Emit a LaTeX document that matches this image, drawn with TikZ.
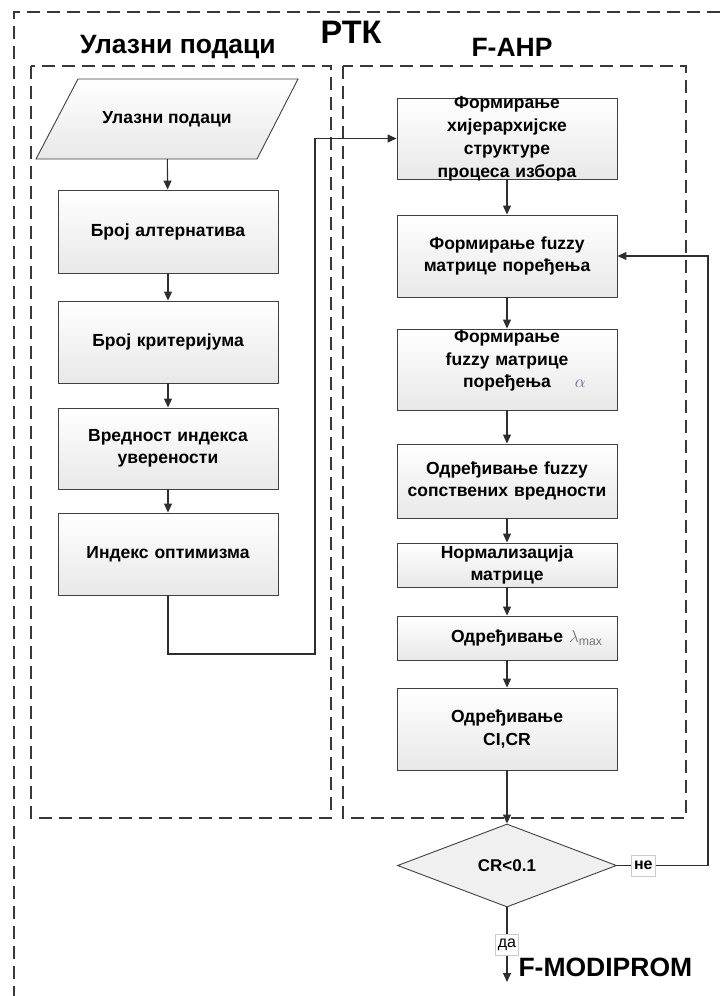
\documentclass[tikz,border=0pt]{standalone}
\usepackage{fontspec}
\setmainfont{Liberation Sans}
\usetikzlibrary{shapes.geometric,arrows.meta}
\definecolor{alphatone}{RGB}{95,108,140}
\definecolor{lambdatone}{RGB}{120,120,120}

% text block that may run past the edges of its box
\newcommand{\overflowtext}[2]{\raisebox{#1}{\smash{\parbox[c]{218pt}{\centering #2}}}}

\begin{document}
\begin{tikzpicture}[x=1pt,y=-1pt,
  frame/.style={draw=black!78, line width=1.2pt, dash pattern=on 13pt off 7pt},
  boxshade/.style={top color=white, bottom color=white!91!black},
  procbox/.style={draw=black!75, line width=0.9pt, boxshade,
    minimum width=220pt, inner sep=0pt, align=center, text width=218pt,
    font=\fontsize{17.5}{22.5}\selectfont\bfseries},
  intext/.style={minimum width=220pt, minimum height=80pt, inner sep=0pt,
    font=\fontsize{17.5}{22.5}\selectfont\bfseries},
  decbox/.style={draw=black!75, line width=0.9pt, fill=white!94!black,
    shape=diamond, minimum width=219pt, minimum height=83pt, inner sep=0pt,
    font=\fontsize{17}{20}\selectfont\bfseries},
  link/.style={draw=black!82, line width=1.1pt},
  arr/.style={link, -{Triangle[length=9pt,width=8pt]}},
  tag/.style={fill=white, draw=black!20, line width=0.6pt, inner sep=2.5pt,
    minimum height=21pt},
  title/.style={font=\fontsize{26.5}{30}\selectfont\bfseries}
]
\useasboundingbox (0,0) rectangle (724,996);
\clip (0,0) rectangle (724,996);

% frames
\draw[frame] (740,12) -- (14,12) -- (14,1010);
\draw[frame] (31,66) rectangle (331,818);
\draw[frame] (343,66) rectangle (686,818);

% titles
\node[font=\fontsize{32.5}{36}\selectfont\bfseries] (tmain) at (351,32) {РТК};
\node[title] (tin) at (178,47) {Улазни подаци};
\node[title] (tahp) at (512,47) {F-AHP};

% input column: parallelogram outline, then its text
\draw[draw=black!75, line width=0.9pt, boxshade]
  (78,79) -- (298,79) -- (257,159) -- (36,159) -- cycle;
\node[intext] (in) at (167,119) {Улазни подаци};
\node[procbox, minimum height=83pt] (b1) at (168,231.5) {Број алтернатива};
\node[procbox, minimum height=82pt] (b2) at (168,342) {Број критеријума};
\node[procbox, minimum height=81pt] (b3) at (168,448.5) {Вредност индекса\\уверености};
\node[procbox, minimum height=82pt] (b4) at (168,554) {Индекс оптимизма};

% F-AHP column
\node[procbox, minimum height=81pt, font=\fontsize{17.5}{23}\selectfont\bfseries] (r1) at (507,138.5)
  {\overflowtext{-9pt}{Формирање\\хијерархијске\\структуре\\процеса избора}};
\node[procbox, minimum height=82pt] (r2) at (507,256)
  {Формирање fuzzy\\матрице поређења};
\node[procbox, minimum height=81pt] (r3) at (507,369.5)
  {Формирање\\fuzzy матрице\\поређења\rlap{\hspace{24pt}\color{alphatone}$\alpha$}\\[-2pt]\mbox{}};
\node[procbox, minimum height=74pt] (r4) at (507,481)
  {Одређивање fuzzy\\сопствених вредности};
\node[procbox, minimum height=44pt] (r5) at (507,565)
  {Нормализација\\матрице};
\node[procbox, minimum height=44pt] (r6) at (507,638)
  {Одређивање\rlap{\hspace{6pt}\color{lambdatone}$\lambda_{\max}$}};
\node[procbox, minimum height=82pt] (r7) at (507,729)
  {Одређивање\\CI,CR};
\node[decbox] (dec) at (507,865.5) {CR<0.1};

\coordinate (c1) at (315,654);
\coordinate (c2) at (708,865.5);
\coordinate (fin) at (507,982);

% flow
\draw[arr] (in) -- (b1);
\draw[arr] (b1) -- (b2);
\draw[arr] (b2) -- (b3);
\draw[arr] (b3) -- (b4);
\draw[arr] (b4.south) |- (c1) |- (r1.west);
\draw[arr] (r1) -- (r2);
\draw[arr] (r2) -- (r3);
\draw[arr] (r3) -- (r4);
\draw[arr] (r4) -- (r5);
\draw[arr] (r5) -- (r6);
\draw[arr] (r6) -- (r7);
\draw[arr] (r7) -- (dec);
\draw[arr] (dec.east) -- node[tag, pos=0.29, font=\fontsize{16}{18}\selectfont\bfseries] (no) {не} (c2) |- (r2.east);
\draw[arr] (dec.south) -- node[tag, pos=0.5, font=\fontsize{16}{18}\selectfont] (yes) {да} (fin);
\node[anchor=west, font=\fontsize{26.5}{30}\selectfont\bfseries] (next) at (515,967) {F-MODIPROM};
\end{tikzpicture}
\end{document}
